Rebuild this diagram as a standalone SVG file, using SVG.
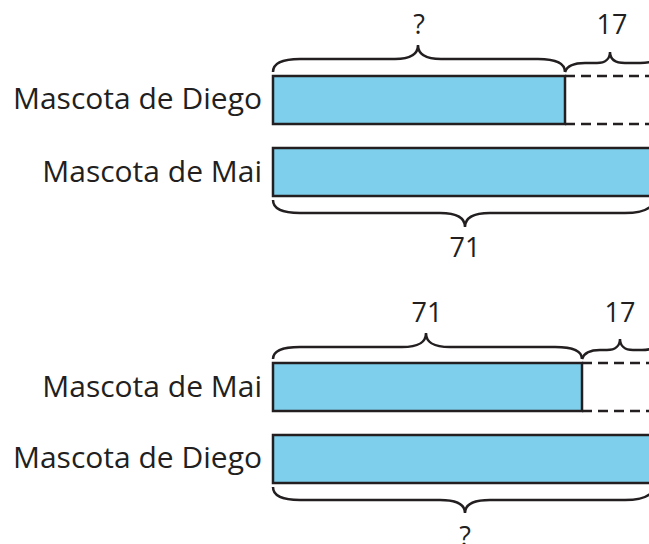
<svg xmlns="http://www.w3.org/2000/svg" width="649" height="544" viewBox="0 0 649 544">
<style>
.bar{fill:#7ecfeb;stroke:#231f20;stroke-width:2.5}
.dash{fill:none;stroke:#231f20;stroke-width:2.5;stroke-dasharray:10 6}
.brace{fill:none;stroke:#231f20;stroke-width:2.5}
.lbl{font-family:"Open Sans","Noto Sans",sans-serif;font-size:30px;fill:#231f20}
.num{font-family:"Open Sans","Noto Sans",sans-serif;font-size:27px;fill:#231f20;text-anchor:middle}
</style>
<rect width="649" height="544" fill="#fff"/>
<g id="top">
<g id="diego1">
<text class="lbl" x="262" y="109" text-anchor="end">Mascota de Diego</text>
<rect class="bar" x="273" y="76" width="292" height="48"/>
<line class="dash" x1="565" y1="76" x2="652" y2="76"/>
<line class="dash" x1="565" y1="124" x2="652" y2="124"/>
</g>
<g id="mai1">
<text class="lbl" x="262" y="182" text-anchor="end">Mascota de Mai</text>
<rect class="bar" x="273" y="148" width="390" height="48"/>
</g>
<g id="braces1">
<path class="brace" d="M273,72 C273,63 284,59 300,59 L395,59 C410,59 418,55 418,45 C418,55 426,59 441,59 L538,59 C554,59 565,63 565,72"/>
<text class="num" x="419" y="34">?</text>
<path class="brace" d="M565,72 C567,66 573,63 585,63 L597,63 C605,63 610,59 610,52 C610,59 615,63 625,63 L640,63 C648,63 652,62 655,60"/>
<text class="num" x="612" y="34">17</text>
<path class="brace" d="M273,200 C273,209 284,213 300,213 L440,213 C456,213 465,217 465,227 C465,217 474,213 490,213 L625,213 C640,213 648,210 652,205"/>
<text class="num" x="465" y="257">71</text>
</g>
</g>
<g id="bottom">
<g id="mai2">
<text class="lbl" x="262" y="397" text-anchor="end">Mascota de Mai</text>
<rect class="bar" x="273" y="363" width="309" height="48"/>
<line class="dash" x1="582" y1="363" x2="652" y2="363"/>
<line class="dash" x1="582" y1="411" x2="652" y2="411"/>
</g>
<g id="diego2">
<text class="lbl" x="262" y="468" text-anchor="end">Mascota de Diego</text>
<rect class="bar" x="273" y="435" width="390" height="48"/>
</g>
<g id="braces2">
<path class="brace" d="M273,359 C273,350 284,347 300,347 L402,347 C418,347 426,343 426,333 C426,343 434,347 450,347 L555,347 C571,347 582,350 582,359"/>
<text class="num" x="427" y="322">71</text>
<path class="brace" d="M582,359 C584,353 590,350 600,350 L607,350 C615,350 620,346 620,339 C620,346 625,350 633,350 L642,350 C648,350 652,349 655,347"/>
<text class="num" x="620" y="322">17</text>
<path class="brace" d="M273,487 C273,496 284,500 300,500 L440,500 C456,500 465,504 465,513 C465,504 474,500 490,500 L625,500 C640,500 648,497 652,492"/>
<text class="num" x="465" y="546">?</text>
</g>
</g>
</svg>
